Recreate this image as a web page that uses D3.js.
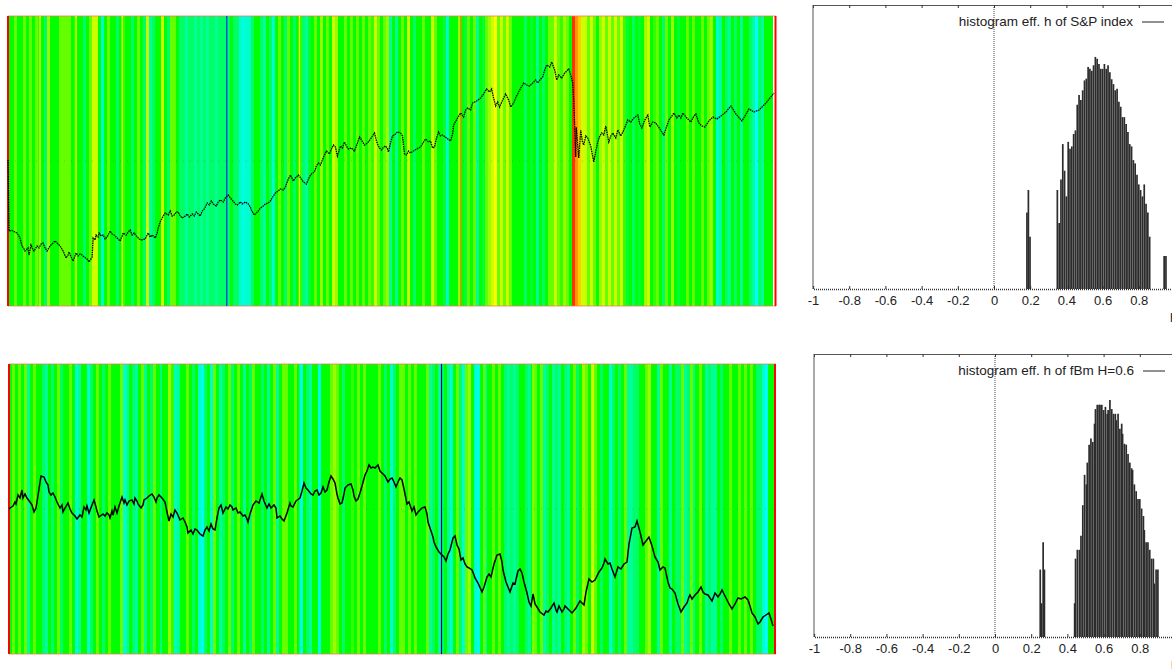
<!DOCTYPE html>
<html>
<head>
<meta charset="utf-8">
<script src="https://cdn.jsdelivr.net/npm/d3@7"></script>
<style>
html, body { margin: 0; padding: 0; background: #fff; overflow: hidden; }
text { font-family: "Liberation Sans", Arial, sans-serif; fill: #222; }
</style>
</head>
<body>
<svg id="chart" width="1172" height="669"></svg>
<script>
// local exponent per time bin (5 = green, 10 = red, 0 = blue)
var stripesTop = [
  5,5,6,5,5,6,5,6,5,6, 5.5,5,4,6.5,5,5,5,6,6,6, 6,5,5.5,5,5,4,5,6,7,7, 5,3,5,6,5,5,4,5,5.5,5,
  5,4,5,6,5,4,7,3.5,4,5, 5,7,5,4,6,6,5,4,4,3.5, 4,4,3.5,4,3.5,4,3.5,4,4,3.5, 4,4,4,4,5,4,4,3,2.8,3,
  3,4,5,5,4,
  3.5,5,4,3,5,6,5,4,6,5, 4,5,5.5,4,3.5,4.5,5,6,5,6.5, 5,6,5,7,6.5,5,5,6,5,6, 5,6,5,6,5,6,5.5,7,6,5,
  6,6.5,3.5,5,3.5,5,6,5,7,5, 4,5,5,6,5,5,7,6,5,5, 4.5,3,5,5,5,6.5,5,4.5,6,5, 6,3.5,5,4.5,6,6.5,7,7.5,6,7,
  6,7,6,5,5,
  5,
  5,4,5,4.5,5,3.5,5,4,5,6, 6,7,6,5.5,6.5,6,5,9.5,8.5,8, 7,7,6,7,6,5,6.5,7,6,7, 6,7,6,7,5.5,4.5,5,4,5,4.5,
  5,6.5,7,5,5.5,6,5,4,6,5, 6.5,5,4.5,5,5,6,5,6,5,5, 6,5,6,6.5,5,3,3.5,5,4,3.5, 5,4,5,3.5,5,5,4,3.5,2.5,4,
  3.5,5,5,5
];
var stripesBottom = [
  5,6,5,6,5,6,3.5,5,6,5, 5,4,3.5,5,4,5,6,4,5,5, 6,5,3,3.5,5,5,3,4,5,6, 5,4,5,6,5,5,5,6,3,3.5,
  5,4,3.5,5,6,3.5,5,4,6,5, 5,5,5,6.5,5.5,3.2,3.5,5,5,6, 5,4,5,3,2.7,4,5,3,6,5, 3.5,4,5,6,4,5,6,5,3.5,5,
  4,6,5,5,4,
  5,3.5,5,6,3.5,5,6,6,5,5, 6,5,2.6,5,4,3.5,5,5,2.7,5, 5,5,6,6.5,6,5,4,5,5,5.5, 5,6,5,6,5,5,5,5,6,5,
  4,5,3,4,5,6,6,5,6,5, 6,5,5,5,6,3.5,4,5,3.5,4, 5,3.5,3,5,6,4,3,6,6.5,5, 3,2.7,5,6,5,5,6,5,6,5,
  4,3.5,4,3.5,4,
  5,
  5,4,3.5,5,6,5,6,3.5,4,5, 3.5,4,3.5,5,4,3.5,5,6,4,5, 6.5,6,5,7,6,5,4,5,5,3, 4,5,4,5,6,3.5,3.5,4,4,5,
  5,6,6.5,5,5,3.5,6,5,5,3.5, 5,4,4,6,3.5,4,6,5,5,6, 5,3.5,4,3.5,3.5,5,4,5,5,6, 5,5,6,5,6,5,6,5,4,4,
  3,2.6,5,5
];

// single time samples that stand out from the bins [t, level]
var extremesTop = [[0, 10], [32, 7.5], [68, 7.5], [114, 7.5], [218.5, 0.4], [291, 7.5], [452, 8.7], [766.5, 10]];
var extremesBottom = [[0, 10], [152, 2.9], [291, 2.9], [432.5, -1.5], [477, 3], [524, 7], [685, 2.9], [766, 10]];

// S&P index [t, value]
var spIndex = [
  [0,146],[1,75],[4,75.5],[7,74],[9,73],[12,68],[14,60],[16,57],[17,55],[20,58],[21,51],[23,61],[25,56],[26,55],[29,60],[31,58],[33,62],[35,63],
  [37,58],[39,55],[42,60],[45,63],[47,65],[50,62],[52,60],[55,55],[58,48],[60,51],[61,54],[63,49],[65,45],[68,53],[70,50],[72,52],[74,51],[76,49],
  [79,47],[81,44],[84,49],[85,68],[87,66],[88,71],[90,69],[91,73],[93,70],[95,71],[97,67],[99,69],[102,75],[104,72],[106,71],[109,68],[112,65],
  [114,70],[115,73],[118,71],[120,74],[122,76],[124,71],[126,73],[129,69],[131,67],[133,66],[137,67],[139,71],[140,73],[142,69],[144,71],[147,68],
  [149,73],[150,78],[152,84],[153,86],[155,90],[157,93],[160,91],[162,95],[164,90],[166,91],[168,94],[170,94],[172,90],[174,88],[177,90],[179,92],
  [181,89],[184,92],[186,90],[188,94],[190,92],[192,90],[194,95],[196,97],[199,103],[201,101],[203,105],[205,102],[208,100],[210,104],[212,106],
  [215,104],[217,108],[220,111],[222,108],[224,106],[227,102],[229,101],[232,104],[234,102],[237,104],[240,102],[242,99],[243,96],[246,91],[248,93],
  [250,95],[252,98],[255,100],[257,102],[260,103],[262,105],[265,110],[267,113],[270,115],[272,117],[275,116],[277,119],[280,127],[282,131],[285,125],
  [287,128],[290,131],[293,127],[295,124],[298,122],[301,129],[303,132],[306,134],[308,140],[310,143],[312,141],[314,146],[316,151],[318,155],[321,152],
  [323,157],[325,161],[327,159],[329,150],[332,160],[334,158],[336,164],[338,160],[340,157],[343,158],[346,155],[349,163],[351,169],[353,166],[356,161],
  [359,163],[362,167],[364,170],[366,173],[368,165],[369,162],[371,158],[373,156],[375,159],[377,160],[379,157],[380,154],[382,163],[384,170],[387,172],
  [389,174],[392,173],[394,170],[396,152],[398,151],[400,155],[402,153],[405,155],[408,157],[412,159],[415,164],[417,167],[420,164],[422,165],[424,158],
  [426,159],[428,168],[430,174],[432,170],[434,171],[438,168],[442,165],[444,172],[445,181],[449,188],[452,193],[455,189],[457,196],[459,198],[462,196],
  [464,203],[468,205],[472,208],[475,212],[478,217],[481,214],[483,217],[485,208],[487,200],[489,204],[491,199],[494,206],[497,212],[500,206],[502,199],
  [505,203],[507,208],[511,216],[515,223],[518,221],[521,220],[524,223],[527,226],[529,223],[532,227],[534,229],[536,236],[538,241],[541,239],[543,244],
  [546,236],[548,226],[550,231],[553,228],[556,233],[560,237],[562,231],[564,223],[565,206],[567,149],[567.5,179],[570,148],[572,176],[573.5,165],[575,161],
  [577,170],[579,168],[582,160],[585,144],[587,155],[589,164],[591,170],[593,173],[595,171],[597,180],[600,164],[602,170],[604,173],[607,168],[609,176],
  [612,170],[615,176],[617,181],[619,186],[622,184],[625,188],[629,191],[631,182],[633,178],[636,186],[639,191],[641,179],[644,184],[647,183],[651,177],
  [653,174],[655,171],[658,180],[660,186],[663,190],[665,193],[668,188],[670,191],[672,188],[674,193],[678,188],[682,184],[685,190],[687,192],[690,183],
  [693,180],[696,179],[700,185],[704,189],[708,187],[712,190],[717,194],[722,200],[727,192],[733,185],[736,190],[740,197],[745,194],[750,196],[754,200],
  [757,203],[761,208],[765,213]
];

// fBm H=0.6 path [t, value]
var fbmPath = [
  [0,145],[1,146],[4,148],[6,152],[7,150],[9,159],[11,156],[13,164],[14,156],[16,160],[18,156],[21,152],[23,149],[25,142],[27,146],[28,152],[30,165],[32,178],
  [35,177],[37,172],[39,169],[40,162],[42,159],[44,161],[46,157],[48,152],[51,146],[53,149],[54,142],[56,146],[59,151],[61,145],[63,141],[66,138],[68,135],
  [71,139],[73,137],[75,147],[77,144],[78,148],[80,141],[83,149],[85,154],[87,147],[88,143],[90,137],[94,140],[96,138],[98,141],[100,139],[101,136],[103,143],
  [104,139],[106,147],[108,141],[110,148],[113,157],[115,151],[116,154],[118,149],[120,153],[123,154],[125,150],[126,156],[128,153],[129,150],[132,146],[134,149],
  [135,154],[138,156],[140,158],[143,160],[145,157],[147,152],[148,156],[150,159],[153,156],[156,152],[158,142],[160,133],[162,140],[164,137],[166,144],[168,141],
  [171,134],[174,136],[176,132],[178,127],[179,121],[182,124],[184,120],[186,125],[188,124],[191,120],[194,118],[196,124],[198,127],[200,123],[202,130],[204,125],
  [206,124],[208,136],[210,146],[212,149],[214,141],[217,147],[219,145],[221,149],[223,147],[224,144],[227,146],[229,141],[231,142],[234,138],[236,139],[238,135],
  [239,132],[241,140],[244,149],[247,153],[250,151],[253,160],[255,153],[258,146],[260,150],[262,146],[265,149],[267,146],[268,136],[271,138],[273,135],[275,133],
  [278,141],[281,151],[282,148],[284,147],[287,153],[291,156],[293,163],[295,171],[297,166],[299,164],[302,160],[304,159],[306,163],[308,164],[310,159],[312,161],
  [314,167],[316,162],[318,164],[320,172],[322,178],[324,175],[326,171],[328,160],[329,156],[331,150],[333,151],[335,160],[336,166],[339,169],[342,170],[344,164],
  [345,158],[347,153],[349,155],[351,161],[353,168],[356,179],[358,183],[360,189],[362,186],[364,187],[366,186],[369,189],[371,183],[374,180],[376,178],[379,172],
  [381,175],[383,176],[385,172],[387,167],[389,172],[391,176],[393,174],[395,165],[398,150],[400,152],[403,143],[405,147],[407,139],[409,142],[411,144],[413,146],
  [416,147],[418,140],[419,132],[421,126],[424,117],[425,112],[427,107],[430,102],[433,99],[435,97],[437,93],[439,100],[441,104],[444,116],[446,118],[448,109],
  [450,105],[452,94],[454,96],[456,90],[458,87],[460,86],[463,84],[465,79],[466,76],[469,71],[473,62],[475,67],[478,77],[480,80],[482,77],[485,90],[488,99],
  [491,100],[493,92],[494,84],[497,72],[501,62],[504,71],[506,70],[509,83],[511,85],[513,81],[515,72],[518,61],[520,52],[522,48],[524,60],[526,50],[528,47],
  [531,42],[535,39],[537,43],[539,42],[542,46],[545,51],[547,44],[548,42],[550,48],[553,42],[555,45],[556,48],[560,44],[563,41],[567,46],[571,53],[573,51],
  [575,49],[577,62],[580,75],[583,72],[586,74],[590,82],[593,86],[595,91],[596,95],[599,90],[601,91],[603,85],[606,77],[609,87],[612,85],[615,90],[618,92],
  [620,110],[623,126],[626,127],[628,133],[631,122],[634,109],[637,113],[640,117],[643,108],[646,97],[649,92],[651,84],[654,87],[656,86],[659,72],[661,66],
  [663,65],[666,61],[669,50],[672,42],[675,47],[678,51],[680,57],[681,59],[683,55],[686,59],[689,62],[692,67],[694,62],[696,60],[699,59],[701,56],[703,53],
  [706,61],[709,57],[711,60],[713,64],[715,60],[717,56],[720,50],[723,45],[726,50],[729,56],[732,55],[736,57],[739,54],[741,48],[743,41],[746,37],[749,30],
  [751,32],[754,37],[757,39],[760,41],[762,35],[764,28]
];

// histograms of effective h [h, count]
var histTop = [
  [0.182,5],[0.19,8],[0.199,3],
  [0.35,8],[0.36,4],[0.37,10],[0.38,21],[0.39,12],[0.40,7],[0.41,22],[0.42,19],[0.43,20],[0.44,26],[0.45,28],[0.46,48],[0.47,59],[0.48,53],
  [0.49,65],[0.50,80],[0.51,83],[0.52,106],[0.53,102],[0.54,98],[0.55,110],[0.56,131],[0.57,126],[0.58,113],[0.59,102],[0.60,102],[0.61,113],
  [0.62,102],[0.63,110],[0.64,95],[0.65,82],[0.66,74],[0.67,65],[0.68,67],[0.69,51],[0.70,46],[0.71,37],[0.72,37],[0.73,32],[0.74,27],[0.75,21],
  [0.76,20],[0.77,15],[0.78,14],[0.79,11],[0.80,9],[0.81,8],[0.82,7],[0.83,9],[0.84,6],[0.85,5],[0.86,3],
  [0.94,2],[0.95,2]
];
var histBottom = [
  [0.25,4],[0.257,2],[0.266,7],[0.273,4],
  [0.44,2],[0.445,5],[0.455,6],[0.466,6],[0.475,8],[0.485,15],[0.495,28],[0.505,23],[0.51,36],[0.52,52],[0.53,59],[0.54,55],[0.55,80],[0.555,108],
  [0.565,118],[0.575,118],[0.58,118],[0.59,118],[0.60,106],[0.61,113],[0.62,98],[0.625,106],[0.635,130],[0.645,108],[0.655,98],[0.665,98],[0.67,86],
  [0.68,98],[0.69,72],[0.70,80],[0.705,65],[0.715,53],[0.725,52],[0.735,43],[0.745,36],[0.755,32],[0.76,31],[0.77,23],[0.78,20],[0.79,17],[0.80,17],
  [0.81,14],[0.82,12],[0.825,9],[0.835,7],[0.845,7],[0.855,6],[0.865,5],[0.875,5],[0.88,3],[0.89,4],[0.90,4]
];

var hTicks = [-1, -0.8, -0.6, -0.4, -0.2, 0, 0.2, 0.4, 0.6, 0.8];
var legendTop = "histogram eff. h of S&P index";
var legendBottom = "histogram eff. h of fBm H=0.6";
var xLabel = "h";

var svg = d3.select("#chart");

var stripeColor = d3.scaleLinear()
    .domain([-3, 0, 2.5, 5, 7.5, 10])
    .range(["#000040", "#0000ff", "#00ffff", "#00ff00", "#ffff00", "#ff0000"])
    .clamp(true);

function drawSeries(stripes, extremes, path, box, lineStyle) {
    var g = svg.append("g");
    var xBin = d3.scaleLinear().domain([0, stripes.length]).range([box.left, box.left + stripes.length * 3]);
    var xT = d3.scaleLinear().domain([0, 766]).range([box.left, box.right]);
    var y = d3.scaleLinear().domain([0, 290]).range([box.bottom, box.top]);

    g.selectAll("rect.stripe")
        .data(stripes)
        .enter().append("rect")
        .attr("class", "stripe")
        .attr("x", function(d, i) { return xBin(i); })
        .attr("y", box.top)
        .attr("width", function(d, i) { return xBin(i + 1) - xBin(i); })
        .attr("height", box.bottom - box.top)
        .attr("fill", function(d) { return stripeColor(d); });

    // frame is faint, the same colour as the end columns
    [box.top, box.bottom].forEach(function(v) {
        g.append("line")
            .attr("x1", box.left).attr("x2", box.right + 1)
            .attr("y1", v).attr("y2", v)
            .attr("stroke", "#ff7050").attr("stroke-opacity", 0.75);
    });

    g.selectAll("line.extreme")
        .data(extremes)
        .enter().append("line")
        .attr("class", "extreme")
        .attr("x1", function(d) { return xT(d[0]); })
        .attr("x2", function(d) { return xT(d[0]); })
        .attr("y1", box.top).attr("y2", box.bottom)
        .attr("stroke", function(d) { return stripeColor(d[1]); })
        .attr("stroke-width", function(d) { return d[0] === 0 || d[0] > 760 ? 2 : 1.2; });

    // zero level, almost invisible over the stripes
    g.append("line")
        .attr("x1", box.left).attr("x2", box.right)
        .attr("y1", y(145)).attr("y2", y(145))
        .attr("stroke", "#555").attr("stroke-opacity", 0.35)
        .attr("stroke-dasharray", "1,6");

    var line = d3.line()
        .x(function(d) { return xT(d[0]); })
        .y(function(d) { return y(d[1]); });

    g.append("path")
        .attr("d", line(path))
        .attr("fill", "none")
        .attr("stroke", "#000")
        .attr("stroke-width", lineStyle.width)
        .attr("stroke-dasharray", lineStyle.dash);
}

function drawHist(hist, box, legend, yMax) {
    var g = svg.append("g");
    var x = d3.scaleLinear().domain([-1, 1]).range([box.left, box.left + 362]);
    var y = d3.scaleLog().domain([1, yMax]).range([box.bottom, box.top]);

    g.selectAll("line.bar")
        .data(hist)
        .enter().append("line")
        .attr("class", "bar")
        .attr("x1", function(d) { return x(d[0]); })
        .attr("x2", function(d) { return x(d[0]); })
        .attr("y1", y(1))
        .attr("y2", function(d) { return y(d[1]); })
        .attr("stroke", "#2c2c2c")
        .attr("stroke-width", 1.7);

    // h = 0 marker
    g.append("line")
        .attr("x1", x(0)).attr("x2", x(0))
        .attr("y1", box.top).attr("y2", box.bottom)
        .attr("stroke", "#444")
        .attr("stroke-dasharray", "1,1");

    var bottom = d3.axisBottom(x).tickValues(hTicks).tickSize(-3).tickPadding(7).tickFormat(function(d) { return String(d); });
    var top = d3.axisTop(x).tickValues(hTicks).tickSize(-3).tickFormat("");

    var ax = g.append("g").attr("transform", "translate(0," + box.bottom + ")").call(bottom);
    var axTop = g.append("g").attr("transform", "translate(0," + box.top + ")").call(top);
    ax.select(".domain").attr("stroke", "#333").attr("stroke-dasharray", "1,1").attr("stroke-width", 1.5);
    axTop.select(".domain").attr("stroke", "#555");
    ax.selectAll(".tick line").attr("stroke", "#333");
    axTop.selectAll(".tick line").attr("stroke", "#333");
    ax.selectAll("text")
        .style("font-family", '"Liberation Sans", Arial, sans-serif')
        .style("font-size", "13px")
        .attr("fill", "#222");

    g.append("line")
        .attr("x1", box.left).attr("x2", box.left)
        .attr("y1", box.top).attr("y2", box.bottom)
        .attr("stroke", "#555");

    g.append("text")
        .attr("x", box.left + 320)
        .attr("y", box.top + 21)
        .attr("text-anchor", "end")
        .style("font-size", "13.5px")
        .text(legend);
    g.append("line")
        .attr("x1", box.left + 329).attr("x2", box.left + 351)
        .attr("y1", box.top + 17).attr("y2", box.top + 17)
        .attr("stroke", "#222");

    g.append("text")
        .attr("x", box.left + 357)
        .attr("y", box.bottom + 33)
        .style("font-size", "13px")
        .text(xLabel);
}

drawSeries(stripesTop, extremesTop, spIndex, {left: 8, right: 775, top: 16, bottom: 306}, {width: 1.3, dash: "1.5,0.8"});
drawSeries(stripesBottom, extremesBottom, fbmPath, {left: 9, right: 775, top: 364, bottom: 654}, {width: 1.5, dash: null});
drawHist(histTop, {left: 813, top: 5, bottom: 289}, legendTop, 390);
drawHist(histBottom, {left: 814, top: 354, bottom: 637}, legendBottom, 335);
</script>
</body>
</html>
